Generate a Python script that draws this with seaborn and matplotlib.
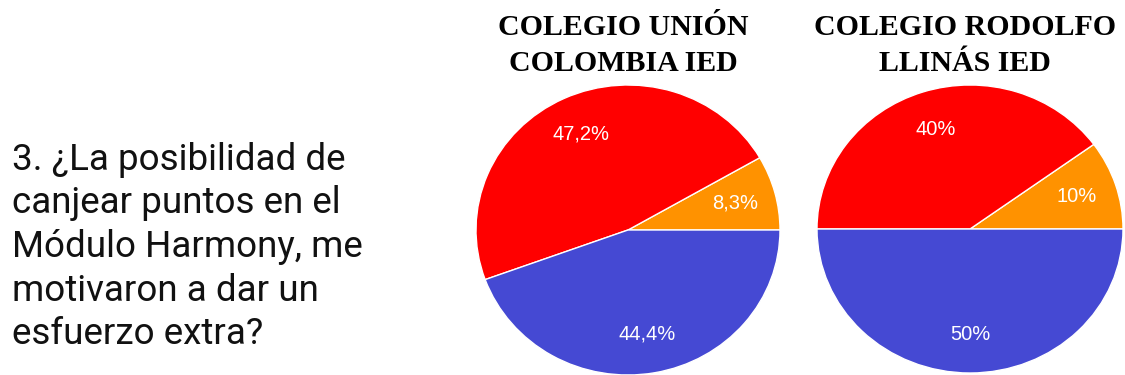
import matplotlib
matplotlib.use("Agg")
import matplotlib.pyplot as plt
import seaborn as sns

sns.set_theme(style="white")
plt.rcParams['font.family'] = ['Liberation Sans', 'DejaVu Sans']

# Data
categories = ["Opción C", "Opción B", "Opción A"]
colors = ["#FF9200", "#FF0000", "#4549D3"]
union_values = [8.3, 47.2, 44.4]
rodolfo_values = [10, 40, 50]
titles = ["COLEGIO UNIÓN\nCOLOMBIA IED", "COLEGIO RODOLFO\nLLINÁS IED"]
question = ("3. ¿La posibilidad de\ncanjear puntos en el\nMódulo Harmony, me\n"
            "motivaron a dar un\nesfuerzo extra?")


def fmt(v):
    s = f"{v:.1f}".replace(".", ",")
    if s.endswith(",0"):
        s = s[:-2]
    return s + "%"


W, H = 1125, 375
fig = plt.figure(figsize=(W / 100, H / 100), dpi=100)
fig.patch.set_facecolor("white")

# pixel boxes: left, top, width, height
boxes = [(476, 85, 304, 290), (817, 85, 306, 288)]
datasets = [union_values, rodolfo_values]

for (lx, ty, w, h), vals, title in zip(boxes, datasets, titles):
    ax = fig.add_axes([lx / W, 1 - (ty + h) / H, w / W, h / H])
    wedges, texts = ax.pie(vals, colors=colors, startangle=0, counterclock=True,
                           labels=[fmt(v) for v in vals], labeldistance=0.73,
                           wedgeprops=dict(edgecolor="white", linewidth=1.0),
                           textprops=dict(color="white", fontsize=14.5,
                                          ha="center", va="center"))
    ax.set_aspect("auto")
    ax.set_xlim(-1, 1)
    ax.set_ylim(-1, 1)
    ax.axis("off")
    cx = (lx + w / 2 - 5) / W
    fig.text(cx, 1 - 14 / H, title, ha="center", va="top",
             family=["Liberation Serif", "DejaVu Serif"], fontweight="bold",
             fontsize=21.5, color="black", linespacing=1.42)

fig.text(12 / W, 1 - 247 / H, question, ha="left", va="center",
         family=["Roboto", "DejaVu Sans"], fontsize=26.5, color="#111111",
         linespacing=1.27)

fig.savefig("out.png", dpi=100, facecolor="white")
